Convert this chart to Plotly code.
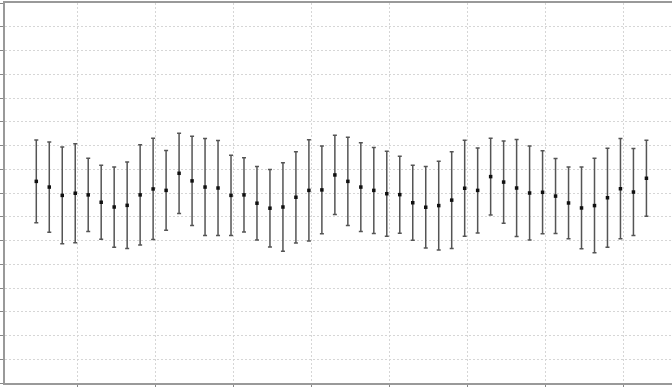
import plotly.graph_objects as go

# index of each observation
idx = list(range(48))
values = [8.49, 8.25, 7.90, 7.99, 7.92, 7.61, 7.41, 7.48, 7.92, 8.17, 8.11, 8.83,
          8.51, 8.25, 8.21, 7.90, 7.92, 7.57, 7.36, 7.41, 7.82, 8.11, 8.13, 8.76,
          8.49, 8.25, 8.11, 7.97, 7.93, 7.59, 7.40, 7.47, 7.70, 8.20, 8.11, 8.69,
          8.46, 8.21, 8.00, 8.03, 7.87, 7.58, 7.37, 7.47, 7.80, 8.18, 8.04, 8.62]
errors = [1.74, 1.90, 2.04, 2.08, 1.54, 1.56, 1.69, 1.82, 2.11, 2.13, 1.68, 1.69,
          1.88, 2.04, 2.00, 1.69, 1.56, 1.55, 1.63, 1.86, 1.92, 2.13, 1.85, 1.67,
          1.86, 1.87, 1.81, 1.79, 1.62, 1.58, 1.72, 1.87, 2.04, 2.02, 1.79, 1.62,
          1.73, 2.04, 1.98, 1.75, 1.58, 1.51, 1.72, 1.99, 2.08, 2.11, 1.83, 1.60]

fig = go.Figure()
fig.add_trace(go.Scatter(
    x=idx, y=values, mode="markers",
    marker=dict(color="#111111", size=3.5, symbol="square"),
    error_y=dict(type="data", array=errors, visible=True,
                 color="#555555", thickness=1.5, width=2),
    showlegend=False,
))

grid = dict(showgrid=True, gridcolor="#d6d6d6", griddash="2px,2px", gridwidth=1,
            zeroline=False, showticklabels=False, automargin=False,
            ticks="outside", ticklen=3, tickcolor="#888888", tickwidth=1)

fig.update_layout(
    width=672, height=387, autosize=False,
    margin=dict(l=5, r=0, t=3, b=4, pad=0, autoexpand=False),
    paper_bgcolor="white", plot_bgcolor="white",
    xaxis=dict(range=[-2.41, 48.97], tick0=3.2, dtick=6,
               showline=True, linecolor="#999999", linewidth=1.5, mirror=True, **grid),
    yaxis=dict(range=[0, 16], tick0=0, dtick=1,
               showline=True, linecolor="#999999", linewidth=1.5, mirror=False, **grid),
)

fig.write_html("out.html", config={"displayModeBar": False},
               post_script="document.body.style.margin='0px';")
